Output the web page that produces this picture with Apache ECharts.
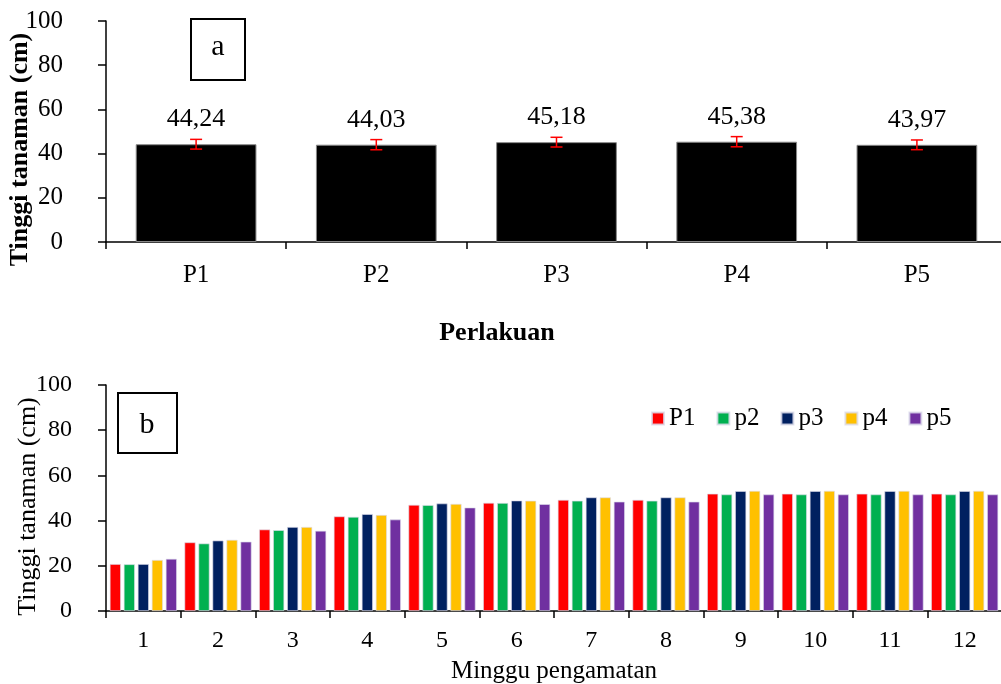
<!DOCTYPE html>
<html lang="en">
<head>
    <meta charset="UTF-8">
    <title>Tinggi tanaman</title>
    <style>
        html, body { margin: 0; padding: 0; background: #fff; }
        #chart { width: 1001px; height: 684px; }
    </style>
</head>
<body>
<div id="chart"></div>
<script src="https://cdnjs.cloudflare.com/ajax/libs/echarts/6.0.0/echarts.min.js"></script>
<script>
    // panel a: mean height per treatment
    const treatments = ['P1', 'P2', 'P3', 'P4', 'P5'];
    const meanHeight = [44.24, 44.03, 45.18, 45.38, 43.97];
    const errHeight = [2.2, 2.3, 2.2, 2.3, 2.2];

    // panel b: weekly height per treatment
    const weeks = ['1', '2', '3', '4', '5', '6', '7', '8', '9', '10', '11', '12'];
    const seriesNames = ['P1', 'p2', 'p3', 'p4', 'p5'];
    const wP1 = [20.8, 30.4, 36.1, 41.9, 47.0, 47.9, 49.2, 49.2, 51.9, 51.9, 51.9, 51.9];
    const wP2 = [20.7, 29.9, 35.8, 41.7, 46.9, 47.8, 48.8, 48.8, 51.6, 51.6, 51.6, 51.6];
    const wP3 = [20.8, 31.2, 37.2, 42.9, 47.6, 48.9, 50.3, 50.3, 53.1, 53.1, 53.1, 53.1];
    const wP4 = [22.6, 31.5, 37.2, 42.5, 47.4, 48.8, 50.3, 50.3, 53.2, 53.2, 53.2, 53.2];
    const wP5 = [23.1, 30.7, 35.5, 40.5, 45.8, 47.3, 48.4, 48.4, 51.6, 51.6, 51.6, 51.6];
    const yTicks = [0, 20, 40, 60, 80, 100];

    const FONT = '"Liberation Serif", "Times New Roman", serif';
    const colors = ['#ff0000', '#00b050', '#002060', '#ffc000', '#7030a0'];
    const weekData = [wP1, wP2, wP3, wP4, wP5];

    const axisLine = { show: true, lineStyle: { color: '#000', width: 1.5 } };
    const axisTick = { show: true, length: 7, lineStyle: { color: '#000', width: 1.5 } };

    function renderErr(params, api) {
        const x = api.value(0);
        const lo = api.coord([x, api.value(1)]);
        const hi = api.coord([x, api.value(2)]);
        const cap = 6;
        const style = { stroke: '#ff0000', lineWidth: 1.5 };
        return {
            type: 'group',
            children: [
                { type: 'line', shape: { x1: hi[0], y1: hi[1], x2: lo[0], y2: lo[1] }, style: style },
                { type: 'line', shape: { x1: hi[0] - cap, y1: hi[1], x2: hi[0] + cap, y2: hi[1] }, style: style },
                { type: 'line', shape: { x1: lo[0] - cap, y1: lo[1], x2: lo[0] + cap, y2: lo[1] }, style: style }
            ]
        };
    }

    const chart = echarts.init(document.getElementById('chart'));
    const option = {
        animation: false,
        textStyle: { fontFamily: FONT, color: '#000' },
        grid: [
            { left: 106, top: 21, height: 221, right: -6, outerBoundsMode: 'none' },
            { left: 106, top: 385, height: 226, right: -1, outerBoundsMode: 'none' }
        ],
        xAxis: [
            {
                gridIndex: 0, type: 'category', data: treatments,
                axisLine: axisLine, axisTick: axisTick,
                axisLabel: { fontFamily: FONT, fontSize: 25, color: '#000', margin: 21 }
            },
            {
                gridIndex: 1, type: 'category', data: weeks,
                axisLine: axisLine, axisTick: axisTick,
                axisLabel: { fontFamily: FONT, fontSize: 24, color: '#000', margin: 18 },
                name: 'Minggu pengamatan', nameLocation: 'middle', nameGap: 48, nameMoveOverlap: false,
                nameTextStyle: { fontFamily: FONT, fontSize: 25, color: '#000' }
            }
        ],
        yAxis: [
            {
                gridIndex: 0, type: 'value', min: 0, max: 100, interval: 20,
                axisLine: axisLine, axisTick: { show: true, length: 8, lineStyle: { color: '#000', width: 1.5 } },
                splitLine: { show: false },
                axisLabel: { fontFamily: FONT, fontSize: 25, color: '#000', margin: 43 },
                name: 'Tinggi tanaman (cm)', nameLocation: 'middle', nameGap: 73, nameMoveOverlap: false,
                nameTextStyle: { fontFamily: FONT, fontSize: 26, fontWeight: 'bold', color: '#000', padding: [0, 36, 0, 0] }
            },
            {
                gridIndex: 1, type: 'value', min: yTicks[0], max: yTicks[yTicks.length - 1], interval: 20,
                axisLine: axisLine, axisTick: { show: true, length: 8, lineStyle: { color: '#000', width: 1.5 } },
                splitLine: { show: false },
                axisLabel: { fontFamily: FONT, fontSize: 24, color: '#000', margin: 34 },
                name: 'Tinggi tanaman (cm)', nameLocation: 'middle', nameGap: 65, nameMoveOverlap: false,
                nameTextStyle: { fontFamily: FONT, fontSize: 26, color: '#000', padding: [0, 17, 0, 0] }
            }
        ],
        legend: {
            data: seriesNames,
            left: 646, top: 401,
            itemWidth: 12, itemHeight: 12, itemGap: 21,
            icon: 'rect',
            textStyle: { fontFamily: FONT, fontSize: 25, color: '#000' }
        },
        graphic: [
            { type: 'rect', shape: { x: 191, y: 19, width: 54, height: 61 }, style: { fill: '#fff', stroke: '#000', lineWidth: 2 } },
            { type: 'text', x: 218, y: 47, style: { text: 'a', font: '30px ' + FONT, fill: '#000', textAlign: 'center', textVerticalAlign: 'middle' } },
            { type: 'rect', shape: { x: 118, y: 393, width: 59, height: 60 }, style: { fill: '#fff', stroke: '#000', lineWidth: 2 } },
            { type: 'text', x: 147, y: 425, style: { text: 'b', font: '30px ' + FONT, fill: '#000', textAlign: 'center', textVerticalAlign: 'middle' } },
            { type: 'text', x: 497, y: 333, style: { text: 'Perlakuan', font: 'bold 26px ' + FONT, fill: '#000', textAlign: 'center', textVerticalAlign: 'middle' } }
        ],
        series: [
            {
                type: 'bar', xAxisIndex: 0, yAxisIndex: 0,
                data: meanHeight,
                barCategoryGap: '33%',
                itemStyle: { color: '#000', borderColor: '#888', borderWidth: 1 },
                label: {
                    show: true, position: 'top', distance: 12,
                    fontFamily: FONT, fontSize: 26, color: '#000',
                    formatter: p => p.value.toFixed(2).replace('.', ',')
                }
            },
            {
                type: 'custom', xAxisIndex: 0, yAxisIndex: 0,
                renderItem: renderErr,
                data: meanHeight.map((m, i) => [i, m - errHeight[i], m + errHeight[i]]),
                z: 5
            }
        ].concat(seriesNames.map((name, k) => ({
            type: 'bar', name: name, xAxisIndex: 1, yAxisIndex: 1,
            data: weekData[k],
            barCategoryGap: '10%', barGap: '25%',
            itemStyle: { color: colors[k], borderColor: 'rgba(220,220,235,0.8)', borderWidth: 0.8 }
        })))
    };
    chart.setOption(option);
</script>
</body>
</html>
